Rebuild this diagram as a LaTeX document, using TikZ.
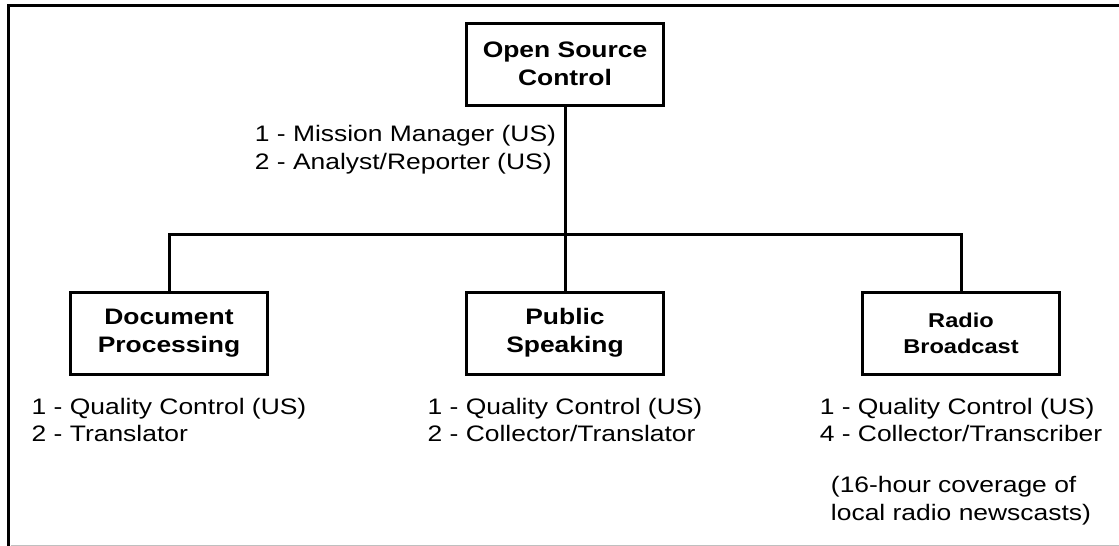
\documentclass[tikz,border=0pt]{standalone}
\usepackage{fontspec}
\setmainfont[FakeStretch=1.18]{Liberation Sans}
\usetikzlibrary{positioning}

\begin{document}
\begin{tikzpicture}[x=1pt, y=-1pt, line width=3pt, align=center, font=\fontsize{22.4}{27}\selectfont,
    unit/.style={draw, inner sep=0pt, minimum width=197pt, minimum height=82pt, font=\fontsize{22.4}{28.5}\selectfont\bfseries},
    staff/.style={align=left, inner sep=0pt, outer sep=0pt}]
    \useasboundingbox (0,0) rectangle (1119,546);
    % Frame
    \draw [line width=3.5pt] (8.5,546) -- (8.5,5.5) -- (1119,5.5);
    \draw [line width=1pt, black!25] (10.5,545.5) -- (1119,545.5);

    % Nodes
    \node [unit] (doc) at (169,333) {Document\\Processing};
    \node [unit, right=196pt of doc] (pub) {Public\\Speaking};
    \node [unit, right=196pt of pub, font=\fontsize{20}{26}\selectfont\bfseries] (radio) {Radio\\Broadcast};
    \node [unit, above=184pt of pub] (osc) {Open Source\\Control};
    \coordinate [below=128pt of osc.south] (bus);

    \node [staff, anchor=north east, font=\fontsize{22.4}{28}\selectfont] (osctext) at ([xshift=-9pt, yshift=-18.5pt]osc.south) {1 - Mission Manager (US)\\2 - Analyst/Reporter (US)};
    \node [staff, below=23pt of doc] (doctext) {1 - Quality Control (US)\\2 - Translator};
    \node [staff, below=23pt of pub] (pubtext) {1 - Quality Control (US)\\2 - Collector/Translator};
    \node [staff, below=23pt of radio] (radiotext) {1 - Quality Control (US)\\4 - Collector/Transcriber};
    \node [staff, below=34pt of radiotext, font=\fontsize{22.4}{28}\selectfont] (radionote) {(16-hour coverage of\\local radio newscasts)};

    % Lines
    \draw (osc) -- (pub);
    \draw (doc) |- (bus) -| (radio);
\end{tikzpicture}
\end{document}
